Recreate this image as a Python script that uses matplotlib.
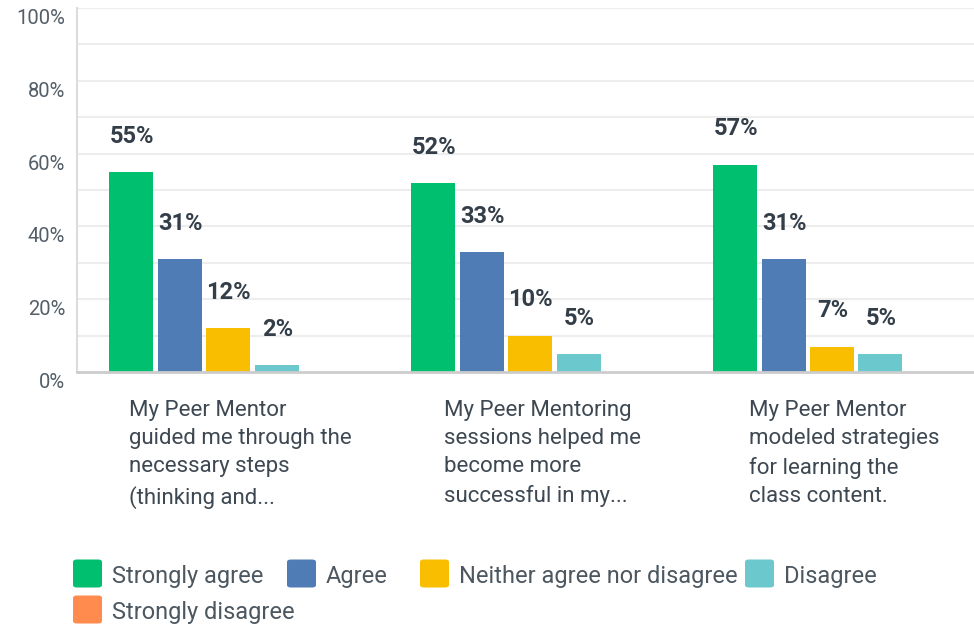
import matplotlib
matplotlib.use("Agg")
import matplotlib.pyplot as plt
from matplotlib.patches import FancyBboxPatch
import numpy as np

# ---------------- data ----------------
categories = [
    "My Peer Mentor\nguided me through the\nnecessary steps\n(thinking and...",
    "My Peer Mentoring\nsessions helped me\nbecome more\nsuccessful in my...",
    "My Peer Mentor\nmodeled strategies\nfor learning the\nclass content.",
]
series_names = ["Strongly agree", "Agree", "Neither agree nor disagree",
                "Disagree", "Strongly disagree"]
strongly_agree = [55, 52, 57]
agree = [31, 33, 31]
neither = [12, 10, 7]
disagree = [2, 5, 5]
strongly_disagree = [0, 0, 0]
series_values = [strongly_agree, agree, neither, disagree, strongly_disagree]
colors = ["#00bf6f", "#507cb6", "#f9be00", "#6bc8cd", "#ff8b4f"]
ytick_values = [0, 20, 40, 60, 80, 100]
ytick_labels = ["0%", "20%", "40%", "60%", "80%", "100%"]

# ---------------- layout ----------------
W, H = 974, 626
FONT = "Roboto"
plt.rcParams["font.family"] = [FONT, "DejaVu Sans"]

fig = plt.figure(figsize=(W / 100, H / 100), dpi=100)
ax_left, ax_right, ax_top, ax_bottom = 77, 974, 8, 372
ax = fig.add_axes([ax_left / W, 1 - ax_bottom / H,
                   (ax_right - ax_left) / W, (ax_bottom - ax_top) / H])

group_px = 302.0
x = np.arange(len(categories))
ax.set_xlim(-0.5, -0.5 + (ax_right - ax_left) / group_px)
ax.set_ylim(0, 100)

bar_w = 44 / group_px
step = 48.5 / group_px
n = len(series_names)
for k, (name, vals, col) in enumerate(zip(series_names, series_values, colors)):
    pos = x + (k - (n - 1) / 2) * step
    ax.bar(pos, vals, width=bar_w, color=col, zorder=3, label=name)
    for px_, v in zip(pos, vals):
        if v > 0:
            ax.annotate(f"{v}%", (px_, v), xytext=(0.5, 21), textcoords="offset points",
                        ha="center", va="baseline", fontsize=17, fontweight="bold",
                        color="#333e48", zorder=4)

# grid every 10%
for g in range(10, 101, 10):
    ax.axhline(g, color="#ededed", lw=1.5, zorder=1)

for s in ["top", "right"]:
    ax.spines[s].set_visible(False)
ax.spines["left"].set_color("#dcdcdc")
ax.spines["left"].set_linewidth(1.5)
ax.spines["bottom"].set_color("#cccccc")
ax.spines["bottom"].set_linewidth(2)
ax.spines["bottom"].set_zorder(5)

ax.set_yticks(ytick_values)
ax.set_yticklabels([])
ax.set_xticks([])
ax.tick_params(axis="y", length=0)

# y tick labels (shifted below grid line)
for v, lab in zip(ytick_values, ytick_labels):
    ax.annotate(lab, (0, v), xycoords=("axes fraction", "data"),
                xytext=(-8.5, -7.5), textcoords="offset points",
                ha="right", va="center", fontsize=14.5, color="#545e67")

# category labels
for xi, lab in zip(x, categories):
    ax.annotate(lab, (xi, 0), xycoords=("data", "data"),
                xytext=(9, -20), textcoords="offset points",
                ha="center", va="top", multialignment="left",
                fontsize=16, color="#3d4852", linespacing=1.46,
                annotation_clip=False)

# legend (flow layout in pixels)
legend_sq_x = [73, 287, 420, 745, 73]
legend_row_y = [573, 573, 573, 573, 609]
sq = 29
for name, col, sx, cy in zip(series_names, colors, legend_sq_x, legend_row_y):
    p = FancyBboxPatch(((sx) / W, 1 - (cy + sq / 2) / H), sq / W, 28 / H,
                       boxstyle="round,pad=0,rounding_size=0.004",
                       transform=fig.transFigure, facecolor=col, edgecolor="none")
    fig.patches.append(p)
    fig.text((sx + sq + 10) / W, 1 - (cy + 3) / H, name, ha="left", va="center",
             fontsize=17, color="#4c5760")

fig.savefig("out.png", dpi=100, facecolor="white")
